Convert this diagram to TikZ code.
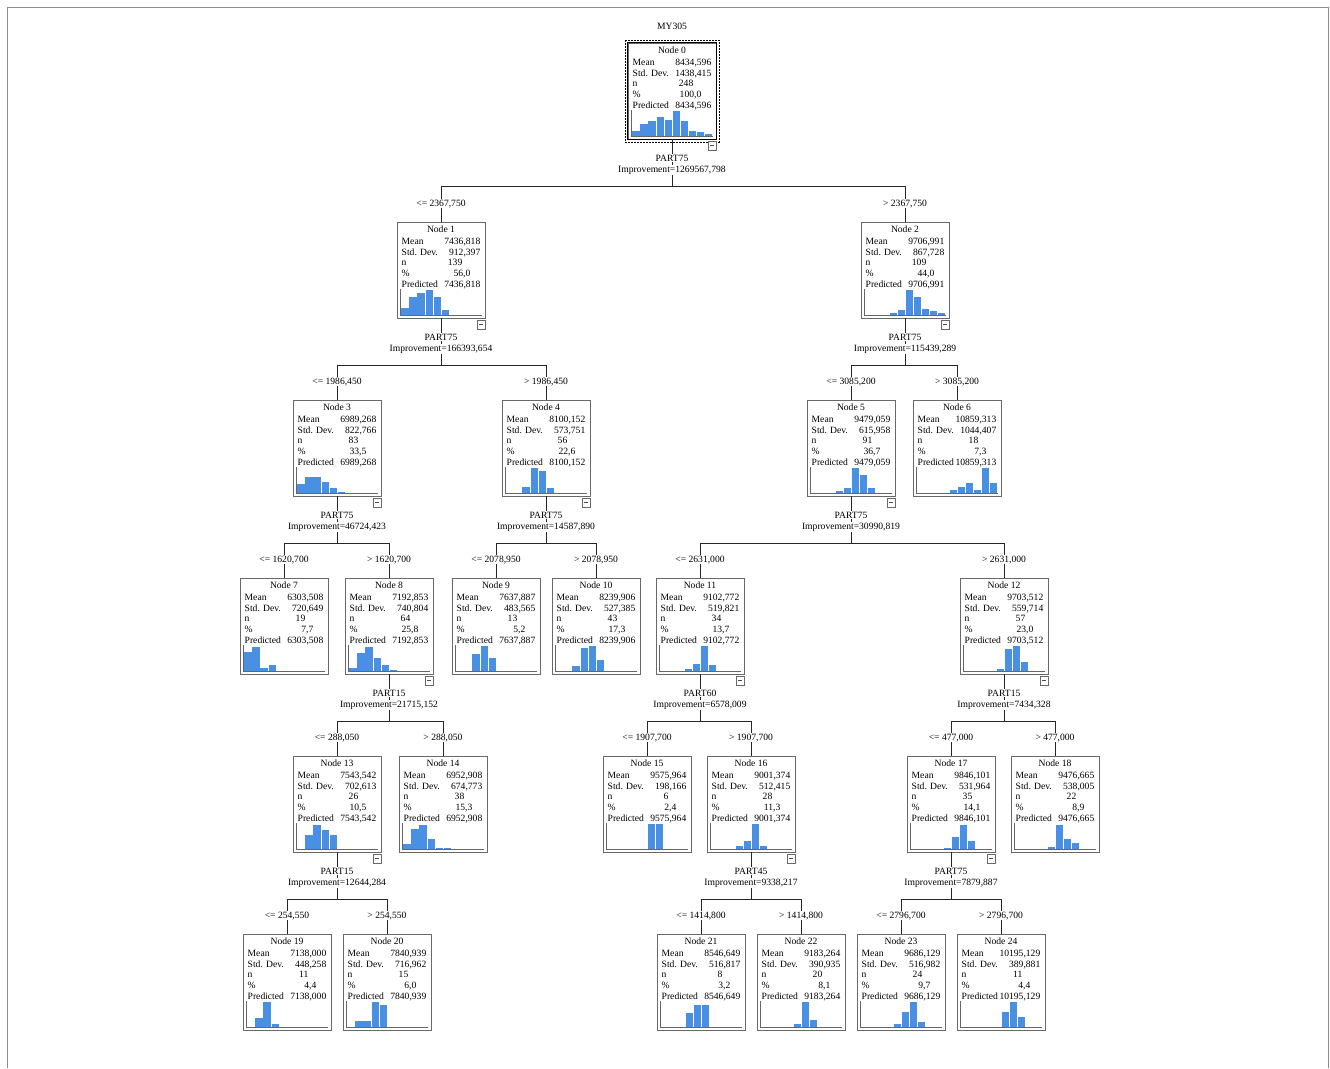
\documentclass[tikz,border=0pt]{standalone}
\usepackage{fontspec}
\setmainfont{Liberation Serif}
\usetikzlibrary{calc}
\definecolor{histblue}{RGB}{74,144,226}
\definecolor{boxgray}{RGB}{105,105,105}
\tikzset{
 nbox/.style={draw=boxgray, line width=0.9pt, minimum width=88pt, minimum height=96pt, inner sep=0pt, fill=white},
 ntext/.style={inner sep=0pt, font=\fontsize{9.6}{10}\selectfont},
 lbl/.style={fill=white, inner sep=1pt, font=\fontsize{9.6}{10}\selectfont},
 conn/.style={draw=black!85, line width=0.8pt},
 haxis/.style={draw=black!60, line width=0.9pt},
 minusbox/.style={draw=boxgray, line width=0.7pt, minimum width=8pt, minimum height=9pt, inner sep=0pt, fill=white},
 frameline/.style={draw=black!45, line width=0.8pt},
}
\newcommand\TNode[8]{%
 \node[nbox] (n#1) at ({#2},{#3+48}) {};
 \node[ntext,anchor=base] (n#1t) at ({#2},{#3+10.5}) {Node #1};
 \node[ntext,anchor=base west] (n#1ra) at ({#2-39.5},{#3+22.5}) {Mean};
 \node[ntext,anchor=base east] (n#1va) at ({#2+39.5},{#3+22.5}) {#4};
 \node[ntext,anchor=base west] (n#1rb) at ({#2-39.5},{#3+33.2}) {Std. Dev.};
 \node[ntext,anchor=base east] (n#1vb) at ({#2+39.5},{#3+33.2}) {#5};
 \node[ntext,anchor=base west] (n#1rc) at ({#2-39.5},{#3+43.9}) {n};
 \node[ntext,anchor=base east] (n#1vc) at ({#2+21.5},{#3+43.9}) {#6};
 \node[ntext,anchor=base west] (n#1rd) at ({#2-39.5},{#3+54.6}) {\%};
 \node[ntext,anchor=base east] (n#1vd) at ({#2+29.5},{#3+54.6}) {#7};
 \node[ntext,anchor=base west] (n#1re) at ({#2-39.5},{#3+65.3}) {Predicted};
 \node[ntext,anchor=base east] (n#1ve) at ({#2+39.5},{#3+65.3}) {#8};
}
\newcommand\Hist[4]{%
 \foreach \h [count=\i from 0] in {#4}{
   \fill[histblue] ({#1-44+4.2+(#3+\i)*8.1},{#2+93}) rectangle ++(7.3,-\h);
 }
 \draw[haxis] ({#1-40.5},{#2+67}) -- ({#1-40.5},{#2+93.3}) -- ({#1+41},{#2+93.3});
}
\newcommand\Minus[1]{%
 \node[minusbox, anchor=north east] (n#1c) at ($(n#1.south east)+(0,1.5)$) {};
 \draw[black!70, line width=0.7pt] ($(n#1c.center)+(-2.3,0)$) -- ($(n#1c.center)+(2.3,0)$);
}
\newcommand\Split[6]{%
 \coordinate (b#1) at ($(n#1.south)+(0,47)$);
 \draw[conn] (n#1.south) -- (b#1);
 \draw[conn] (b#1) -| (n#2.north);
 \draw[conn] (b#1) -| (n#3.north);
 \node[lbl] (s#1v) at ($(n#1.south)+(0,18.5)$) {#4};
 \node[lbl] (s#1i) at ($(n#1.south)+(0,30.5)$) {Improvement=#5};
 \node[lbl] (s#1l) at ($(n#2.north)+(0,-18)$) {<= #6};
 \node[lbl] (s#1r) at ($(n#3.north)+(0,-18)$) {> #6};
}
\begin{document}
\begin{tikzpicture}[x=1pt,y=-1pt]
\useasboundingbox (0,0) rectangle (1330,1068);
\fill[white] (0,0) rectangle (1330,1068);
\draw[frameline] (7,1068) -- (7,7) -- (1328,7) -- (1328,1068);
\node[ntext] (title) at (672,26) {MY305};
% nodes
\TNode{0}{672}{43}{8434,596}{1438,415}{248}{100,0}{8434,596}
\TNode{1}{441}{222}{7436,818}{912,397}{139}{56,0}{7436,818}
\TNode{2}{905}{222}{9706,991}{867,728}{109}{44,0}{9706,991}
\TNode{3}{337}{400}{6989,268}{822,766}{83}{33,5}{6989,268}
\TNode{4}{546}{400}{8100,152}{573,751}{56}{22,6}{8100,152}
\TNode{5}{851}{400}{9479,059}{615,958}{91}{36,7}{9479,059}
\TNode{6}{957}{400}{10859,313}{1044,407}{18}{7,3}{10859,313}
\TNode{7}{284}{578}{6303,508}{720,649}{19}{7,7}{6303,508}
\TNode{8}{389}{578}{7192,853}{740,804}{64}{25,8}{7192,853}
\TNode{9}{496}{578}{7637,887}{483,565}{13}{5,2}{7637,887}
\TNode{10}{596}{578}{8239,906}{527,385}{43}{17,3}{8239,906}
\TNode{11}{700}{578}{9102,772}{519,821}{34}{13,7}{9102,772}
\TNode{12}{1004}{578}{9703,512}{559,714}{57}{23,0}{9703,512}
\TNode{13}{337}{756}{7543,542}{702,613}{26}{10,5}{7543,542}
\TNode{14}{443}{756}{6952,908}{674,773}{38}{15,3}{6952,908}
\TNode{15}{647}{756}{9575,964}{198,166}{6}{2,4}{9575,964}
\TNode{16}{751}{756}{9001,374}{512,415}{28}{11,3}{9001,374}
\TNode{17}{951}{756}{9846,101}{531,964}{35}{14,1}{9846,101}
\TNode{18}{1055}{756}{9476,665}{538,005}{22}{8,9}{9476,665}
\TNode{19}{287}{934}{7138,000}{448,258}{11}{4,4}{7138,000}
\TNode{20}{387}{934}{7840,939}{716,962}{15}{6,0}{7840,939}
\TNode{21}{701}{934}{8546,649}{516,817}{8}{3,2}{8546,649}
\TNode{22}{801}{934}{9183,264}{390,935}{20}{8,1}{9183,264}
\TNode{23}{901}{934}{9686,129}{516,982}{24}{9,7}{9686,129}
\TNode{24}{1001}{934}{10195,129}{389,881}{11}{4,4}{10195,129}
% histograms
\Hist{672}{43}{0}{5,12.5,15,19,16.5,25,15,5,4,2.2}
\Hist{441}{222}{0}{6.7,17.7,22,25,17.7,5.3}
\Hist{905}{222}{3}{2,5.3,25,18.3,6,4.3,2}
\Hist{337}{400}{0}{9,16.5,16,11,5,1.5}
\Hist{546}{400}{2}{6,25,22,5}
\Hist{851}{400}{3}{2,5,25,17.7,5.3}
\Hist{957}{400}{4}{3.3,6,10,3.3,25,10}
\Hist{284}{578}{0}{19,24.3,2.7,5.7}
\Hist{389}{578}{0}{2.7,17.7,24.3,13.3,5.7,1.3}
\Hist{496}{578}{2}{16.7,25,13}
\Hist{596}{578}{2}{4.7,23.3,25,10.7}
\Hist{700}{578}{3}{2,7,24.7,6}
\Hist{1004}{578}{4}{2,22,24.7,9.3}
\Hist{337}{756}{1}{14,24.3,19.3,14}
\Hist{443}{756}{0}{5,20,24.3,10,1,1}
\Hist{647}{756}{5}{25,25}
\Hist{751}{756}{3}{2.7,7.7,25,2.7}
\Hist{951}{756}{4}{1,11.7,24.3,7.7}
\Hist{1055}{756}{4}{1.7,24.3,10,5.7}
\Hist{287}{934}{1}{9,25,3}
\Hist{387}{934}{1}{6,6,25,22}
\Hist{701}{934}{3}{14,22,22}
\Hist{801}{934}{4}{3,25,7}
\Hist{901}{934}{4}{3,15,25,5}
\Hist{1001}{934}{5}{15,25,10}
% selected root
\draw[line width=1.6pt] (n0.north west) rectangle (n0.south east);
\draw[line width=0.7pt, dash pattern=on 1.5pt off 1.5pt] ($(n0.north west)+(-2.5,-2.5)$) rectangle ($(n0.south east)+(2.5,2.5)$);
% splits
\Split{0}{1}{2}{PART75}{1269567,798}{2367,750}
\Split{1}{3}{4}{PART75}{166393,654}{1986,450}
\Split{2}{5}{6}{PART75}{115439,289}{3085,200}
\Split{3}{7}{8}{PART75}{46724,423}{1620,700}
\Split{4}{9}{10}{PART75}{14587,890}{2078,950}
\Split{5}{11}{12}{PART75}{30990,819}{2631,000}
\Split{8}{13}{14}{PART15}{21715,152}{288,050}
\Split{11}{15}{16}{PART60}{6578,009}{1907,700}
\Split{12}{17}{18}{PART15}{7434,328}{477,000}
\Split{13}{19}{20}{PART15}{12644,284}{254,550}
\Split{16}{21}{22}{PART45}{9338,217}{1414,800}
\Split{17}{23}{24}{PART75}{7879,887}{2796,700}
% collapse icons
\foreach \k in {0,1,2,3,4,5,8,11,12,13,16,17}{\Minus{\k}}
\end{tikzpicture}
\end{document}
